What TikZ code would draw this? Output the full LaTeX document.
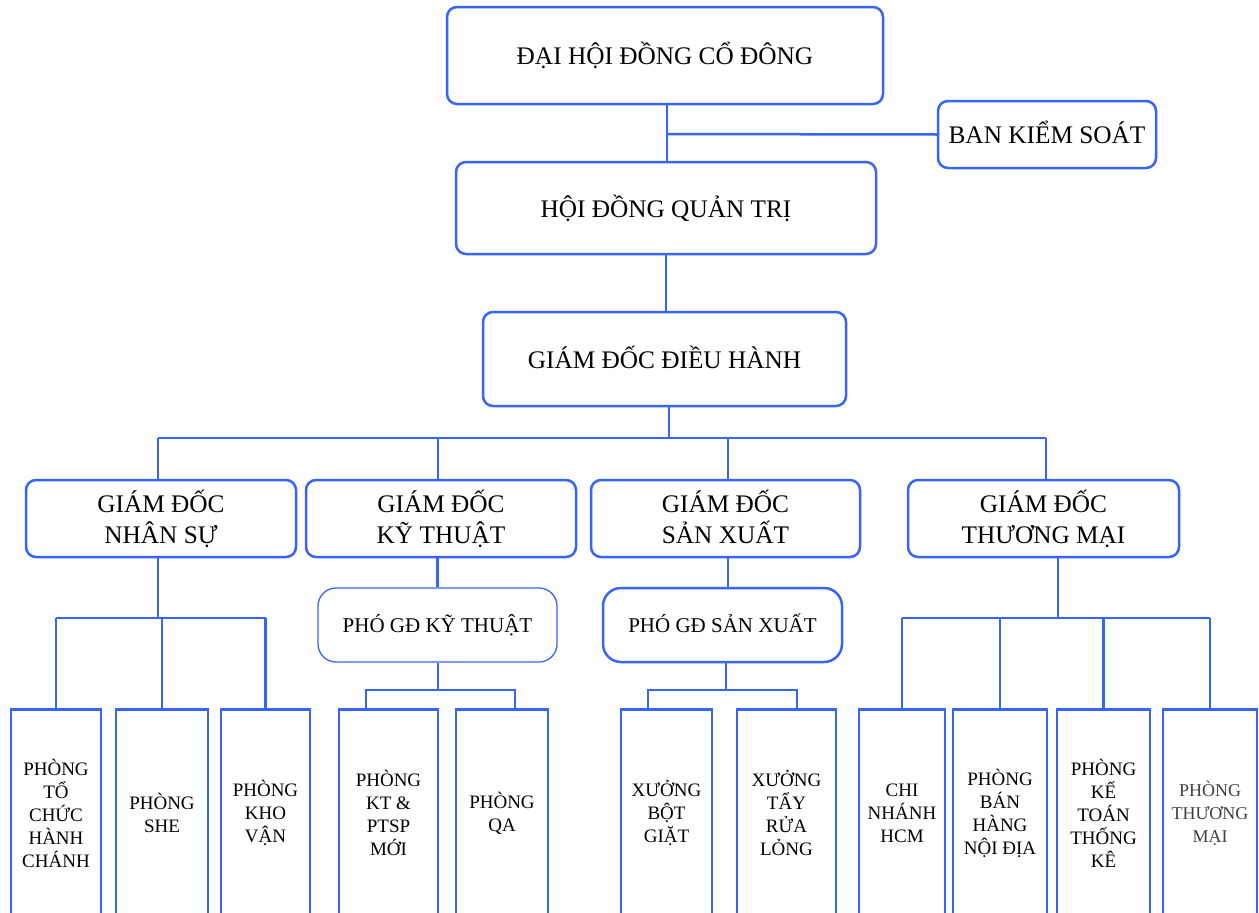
\documentclass[tikz,border=0pt]{standalone}
\usepackage{fontspec}
\setmainfont{Liberation Serif}
\definecolor{bl}{RGB}{55,100,250}
\newcommand{\mydepth}{\vphantom{Ạ}}
\begin{document}
\lineskiplimit=-100pt
\begin{tikzpicture}[x=1pt,y=-1pt,
  box/.style={draw=bl, line width=2.5pt, rounded corners=10pt, align=center, inner sep=0pt, font=\fontsize{25.3}{31}\selectfont},
  pho/.style={draw=bl, rounded corners=18pt, align=center, inner sep=0pt, minimum width=239pt, minimum height=74pt, font=\fontsize{21}{25}\selectfont},
  sub/.style={draw=bl, line width=2.5pt, align=center, inner sep=0pt, anchor=north, minimum height=208pt, font=\fontsize{19}{23}\selectfont},
  conn/.style={draw=bl, line width=2.5pt}]
\useasboundingbox (0,0) rectangle (1259,913);
\clip (0,0) rectangle (1259,913);
\fill[white] (0,0) rectangle (1259,913);
% top levels
\node[box, minimum width=436pt, minimum height=97pt] (dhd) at (665,55.5) {ĐẠI HỘI ĐỒNG CỔ ĐÔNG};
\node[box, minimum width=218pt, minimum height=67pt] (bks) at (1047,134.5) {BAN KIỂM SOÁT\mydepth};
\node[box, minimum width=420pt, minimum height=92pt] (hdqt) at (666,208) {HỘI ĐỒNG QUẢN TRỊ};
\node[box, minimum width=363pt, minimum height=94pt] (gddh) at (664.5,359) {GIÁM ĐỐC ĐIỀU HÀNH\mydepth};
% directors
\node[box, minimum width=270pt, minimum height=77pt] (gdns) at (161,518.5) {GIÁM ĐỐC\\NHÂN SỰ};
\node[box, minimum width=270pt, minimum height=77pt] (gdkt) at (441,518.5) {GIÁM ĐỐC\\KỸ THUẬT};
\node[box, minimum width=269pt, minimum height=77pt] (gdsx) at (725.5,518.5) {GIÁM ĐỐC\\SẢN XUẤT\mydepth};
\node[box, minimum width=271pt, minimum height=77pt] (gdtm) at (1043.5,518.5) {GIÁM ĐỐC\\THƯƠNG MẠI};
% deputies
\node[pho, line width=1.3pt] (phokt) at (437.5,625) {PHÓ GĐ KỸ THUẬT};
\node[pho, line width=2.5pt] (phosx) at (722.5,625) {PHÓ GĐ SẢN XUẤT\mydepth};
% departments
\node[sub, minimum width=90pt] (p1) at (56,708) {PHÒNG\\TỔ\\CHỨC\\HÀNH\\CHÁNH};
\node[sub, minimum width=92pt] (p2) at (162,708) {PHÒNG\\SHE};
\node[sub, minimum width=89pt] (p3) at (265.5,708) {PHÒNG\\KHO\\VẬN};
\node[sub, minimum width=99pt] (p4) at (388.5,708) {PHÒNG\\KT \&\\PTSP\\MỚI};
\node[sub, minimum width=92pt] (p5) at (502,708) {PHÒNG\\QA};
\node[sub, minimum width=91pt] (p6) at (666.5,708) {XƯỞNG\\BỘT\\GIẶT};
\node[sub, minimum width=99pt] (p7) at (786.5,708) {XƯỞNG\\TẨY\\RỬA\\LỎNG};
\node[sub, minimum width=86pt] (p8) at (902,708) {CHI\\NHÁNH\\HCM};
\node[sub, minimum width=94pt] (p9) at (1000,708) {PHÒNG\\BÁN\\HÀNG\\NỘI ĐỊA};
\node[sub, minimum width=93pt] (p10) at (1103.5,708) {PHÒNG\\KẾ\\TOÁN\\THỐNG\\KÊ};
\node[sub, minimum width=94pt, text=black!75, font=\fontsize{18}{23}\selectfont] (p11) at (1210,708) {PHÒNG\\THƯƠNG\\MẠI};
% connectors top
\coordinate (j1) at (667,134);
\draw[conn] (dhd.south -| j1) -- (hdqt.north -| j1);
\draw[conn] (j1) -- (bks.west);
\draw[conn] (hdqt.south) -- (gddh.north -| hdqt.south);
\coordinate (bus) at (669,438);
\coordinate (d1) at (158,438);
\coordinate (d2) at (438,438);
\coordinate (d3) at (728,438);
\coordinate (d4) at (1046,438);
\draw[conn] (gddh.south -| bus) -- (bus);
\draw[conn] (d1) -- (d4);
\draw[conn] (d1) -- (d1 |- gdns.north);
\draw[conn] (d2) -- (d2 |- gdkt.north);
\draw[conn] (d3) -- (d3 |- gdsx.north);
\draw[conn] (d4) -- (d4 |- gdtm.north);
% nhan su
\coordinate (n1) at (158,618);
\draw[conn] (n1 |- gdns.south) -- (n1);
\draw[conn] (p1.north |- n1) -- (p3.north |- n1);
\draw[conn] (p1.north |- n1) -- (p1.north);
\draw[conn] (p2.north |- n1) -- (p2.north);
\draw[conn] (p3.north |- n1) -- (p3.north);
% ky thuat
\draw[conn] (phokt.north |- gdkt.south) -- (phokt.north);
\coordinate (k0) at (438,690);
\coordinate (k1) at (366,690);
\coordinate (k2) at (515,690);
\draw[conn] (k0 |- phokt.south) -- (k0);
\draw[conn] (k1 |- p4.north) -- (k1) -- (k2) -- (k2 |- p5.north);
% san xuat
\coordinate (s0) at (728,600);
\draw[conn] (s0 |- gdsx.south) -- (s0 |- phosx.north);
\coordinate (s1) at (726,690);
\coordinate (s2) at (648,690);
\coordinate (s3) at (797,690);
\draw[conn] (s1 |- phosx.south) -- (s1);
\draw[conn] (s2 |- p6.north) -- (s2) -- (s3) -- (s3 |- p7.north);
% thuong mai
\coordinate (t1) at (1058,618);
\draw[conn] (t1 |- gdtm.south) -- (t1);
\draw[conn] (p8.north |- t1) -- (p11.north |- t1);
\draw[conn] (p8.north |- t1) -- (p8.north);
\draw[conn] (p9.north |- t1) -- (p9.north);
\draw[conn] (p10.north |- t1) -- (p10.north);
\draw[conn] (p11.north |- t1) -- (p11.north);
\end{tikzpicture}
\end{document}
